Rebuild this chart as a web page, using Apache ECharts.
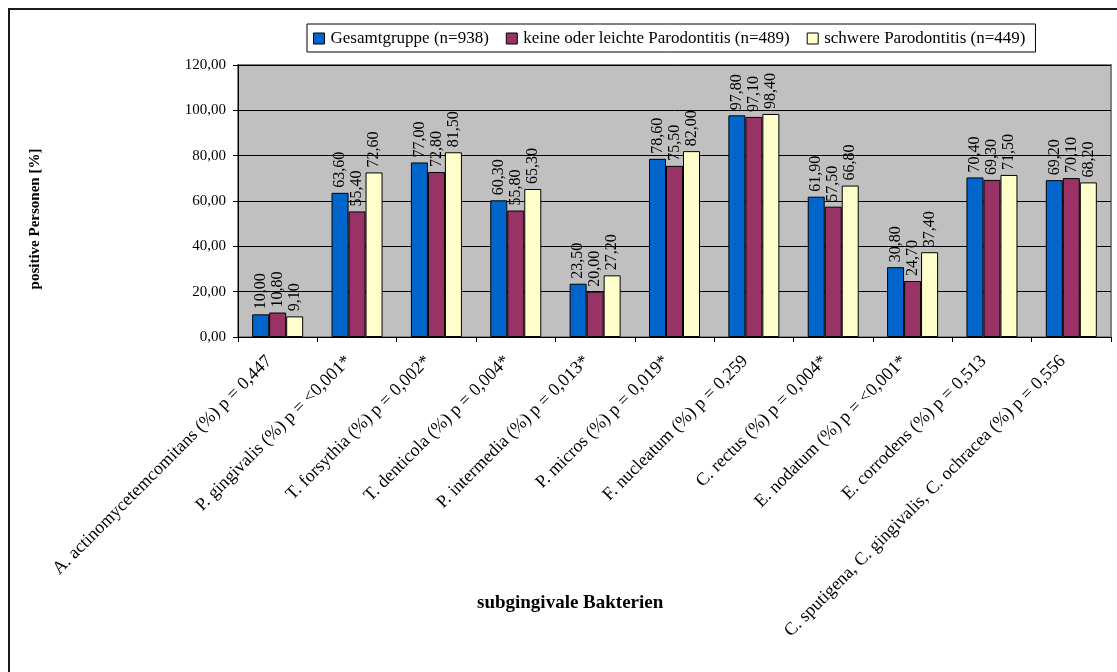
<!DOCTYPE html>
<html>
<head>
<meta charset="utf-8">
<script src="https://cdn.jsdelivr.net/npm/echarts@6/dist/echarts.min.js"></script>
<style>
  html, body { margin: 0; padding: 0; background: #fff; }
  #chart { width: 1117px; height: 672px; }
</style>
</head>
<body>
<div id="chart"></div>
<script>
// Bacteria (with p-values) along the x axis
const categories = [
  'A. actinomycetemcomitans (%) p = 0,447',
  'P. gingivalis (%) p = <0,001*',
  'T. forsythia (%) p = 0,002*',
  'T. denticola (%) p = 0,004*',
  'P. intermedia (%) p = 0,013*',
  'P. micros (%) p = 0,019*',
  'F. nucleatum (%) p = 0,259',
  'C. rectus (%) p = 0,004*',
  'E. nodatum (%) p = <0,001*',
  'E. corrodens (%) p = 0,513',
  'C. sputigena, C. gingivalis, C. ochracea (%) p = 0,556'
];

const seriesNames = [
  'Gesamtgruppe (n=938)',
  'keine oder leichte Parodontitis (n=489)',
  'schwere Parodontitis (n=449)'
];

// Share of positive persons in percent
const gesamt = [10.00, 63.60, 77.00, 60.30, 23.50, 78.60, 97.80, 61.90, 30.80, 70.40, 69.20];
const leicht = [10.80, 55.40, 72.80, 55.80, 20.00, 75.50, 97.10, 57.50, 24.70, 69.30, 70.10];
const schwer = [9.10, 72.60, 81.50, 65.30, 27.20, 82.00, 98.40, 66.80, 37.40, 71.50, 68.20];

const yTicks = [0, 20, 40, 60, 80, 100, 120];

const colors = ['#0066CC', '#993366', '#FFFFCC'];
const serif = '"Liberation Serif", "DejaVu Serif", serif';

const fmt = v => v.toFixed(2).replace('.', ',');

const chart = echarts.init(document.getElementById('chart'), null, { renderer: 'canvas' });

const mkSeries = (name, data, i) => ({
  name: name,
  type: 'bar',
  data: data,
  barWidth: 17,
  barGap: '0%',
  itemStyle: { color: colors[i], borderColor: '#000', borderWidth: 1 },
  label: {
    show: true,
    position: 'top',
    rotate: 90,
    align: 'left',
    verticalAlign: 'middle',
    distance: 5,
    fontFamily: serif,
    fontSize: 16,
    color: '#000',
    formatter: p => fmt(p.value)
  },
  emphasis: { disabled: true },
  animation: false
});

chart.setOption({
  backgroundColor: '#fff',
  animation: false,
  textStyle: { fontFamily: serif },
  graphic: [
    {
      type: 'rect',
      shape: { x: 9, y: 9, width: 1300, height: 900 },
      style: { fill: 'none', stroke: '#1a1a1a', lineWidth: 2 },
      silent: true,
      z: -1
    },
    {
      type: 'text',
      x: 477,
      y: 603,
      style: {
        text: 'subgingivale Bakterien',
        font: 'bold 19px ' + serif,
        fill: '#000',
        verticalAlign: 'middle'
      }
    },
    {
      type: 'text',
      x: 35,
      y: 219,
      rotation: Math.PI / 2,
      style: {
        text: 'positive Personen [%]',
        font: 'bold 15px ' + serif,
        fill: '#000',
        align: 'center',
        verticalAlign: 'middle'
      }
    }
  ],
  legend: {
    data: seriesNames,
    left: 307,
    top: 24,
    padding: [6, 10, 5, 6],
    itemGap: 17,
    itemWidth: 11,
    itemHeight: 11,
    icon: 'rect',
    borderColor: '#000',
    borderWidth: 1,
    backgroundColor: '#fff',
    itemStyle: { borderColor: '#000', borderWidth: 1 },
    textStyle: { fontFamily: serif, fontSize: 17, color: '#000', padding: [0, 0, 0, 1] },
    selectedMode: false
  },
  grid: {
    left: 238,
    right: 6,
    top: 65,
    bottom: 335,
    show: true,
    backgroundColor: '#C0C0C0',
    borderColor: '#808080',
    borderWidth: 2
  },
  xAxis: {
    type: 'category',
    data: categories,
    axisLine: { show: true, lineStyle: { color: '#000', width: 1 } },
    axisTick: { show: true, alignWithLabel: false, length: 5, lineStyle: { color: '#000' } },
    axisLabel: {
      interval: 0,
      rotate: 45,
      margin: 13,
      padding: [0, 12, 0, 0],
      fontFamily: serif,
      fontSize: 18,
      color: '#000'
    }
  },
  yAxis: {
    type: 'value',
    min: yTicks[0],
    max: yTicks[yTicks.length - 1],
    interval: 20,
    axisLine: { show: true, lineStyle: { color: '#000', width: 1 } },
    axisTick: { show: true, length: 5, lineStyle: { color: '#000' } },
    axisLabel: {
      fontFamily: serif,
      fontSize: 15,
      color: '#000',
      margin: 12,
      formatter: v => fmt(v)
    },
    splitLine: { show: true, lineStyle: { color: '#000', width: 1 } }
  },
  series: [
    mkSeries(seriesNames[0], gesamt, 0),
    mkSeries(seriesNames[1], leicht, 1),
    mkSeries(seriesNames[2], schwer, 2)
  ]
});
</script>
</body>
</html>
